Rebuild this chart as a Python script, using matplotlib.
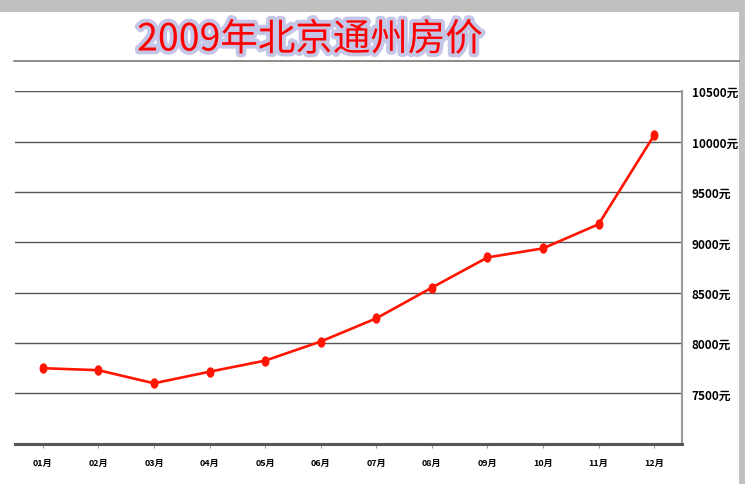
import matplotlib
matplotlib.use("Agg")
import matplotlib.pyplot as plt
from matplotlib.markers import MarkerStyle
from matplotlib.transforms import Affine2D
from matplotlib.patches import Rectangle
from matplotlib.lines import Line2D
import matplotlib.patheffects as pe

plt.rcParams['font.family'] = ['Noto Sans CJK SC', 'DejaVu Sans']

title = "2009年北京通州房价"
months = ["01月", "02月", "03月", "04月", "05月", "06月",
          "07月", "08月", "09月", "10月", "11月", "12月"]
prices = [7750, 7730, 7600, 7715, 7825, 8015, 8245, 8550, 8850, 8940, 9180, 10065]
yticks = [7500, 8000, 8500, 9000, 9500, 10000, 10500]
ytick_labels = [f"{v}元" for v in yticks]

W, H = 745, 485
fig = plt.figure(figsize=(W / 100, H / 100), dpi=100)
fig.patch.set_facecolor("white")

# gray frame bands
fig.add_artist(Rectangle((0, 1 - 13 / H), 1, 13 / H, transform=fig.transFigure,
                         facecolor="#c0c0c0", edgecolor="none", zorder=0))
fig.add_artist(Rectangle((739 / W, 0), 6 / W, 1, transform=fig.transFigure,
                         facecolor="#c0c0c0", edgecolor="none", zorder=0))
# separator line under title
fig.add_artist(Line2D([14 / W, 739 / W], [1 - 62.3 / H, 1 - 62.3 / H],
                      transform=fig.transFigure, color="#6e6e6e", lw=1.1))

left, right, bottom, top = 15, 682, 444.7, 92.3
ax = fig.add_axes([left / W, 1 - bottom / H, (right - left) / W, (bottom - top) / H])

x = list(range(len(months)))
ax.plot(x, prices, color="#ff1500", lw=1.9, zorder=3,
        marker=MarkerStyle("o", transform=Affine2D().scale(0.72, 1.0)),
        markersize=6.5, markerfacecolor="#ff1500", markeredgecolor="#ff1500")

ax.set_xlim(-0.5, len(months) - 0.5)
ax.set_ylim(7000, 10500)
ax.set_xticks(x)
ax.set_xticklabels(months, fontsize=6.5, fontweight="bold")
ax.set_yticks(yticks)
ax.set_yticklabels(ytick_labels, fontsize=8.5, fontweight="bold")
ax.yaxis.tick_right()
ax.tick_params(axis="y", length=0, pad=7)
for lbl in ax.get_yticklabels():
    lbl.set_horizontalalignment("left")
ax.tick_params(axis="x", length=3, color="#999999", pad=7)
ax.grid(axis="y", color="#555555", lw=1.0)
ax.set_axisbelow(True)

for s in ["top", "left"]:
    ax.spines[s].set_visible(False)
ax.spines["right"].set_color("#9a9a9a")
ax.spines["right"].set_linewidth(1.5)
ax.spines["bottom"].set_color("#555555")
ax.spines["bottom"].set_linewidth(2.2)

fig.text(310 / W, 1 - 41 / H, title, fontsize=27, color="#ff0000",
         ha="center", va="center",
         path_effects=[pe.withStroke(linewidth=5.5, foreground="#c3c6e6")])

fig.savefig("out.png", dpi=100)
